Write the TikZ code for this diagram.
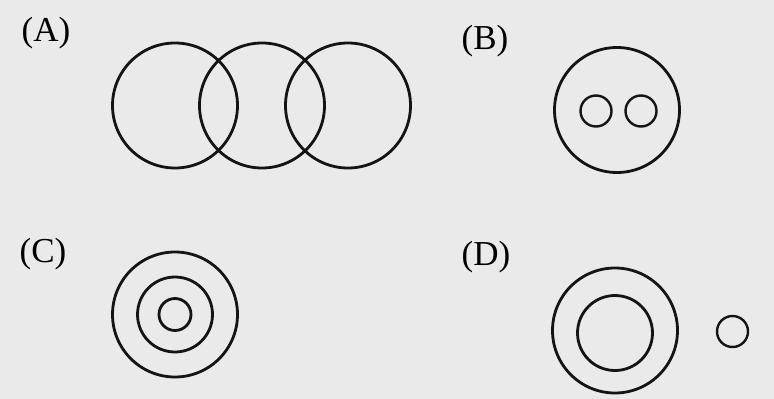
\documentclass[tikz,border=0pt]{standalone}
\usepackage{fontspec}
\setmainfont{Liberation Serif}
\usepackage{xcolor}
\usepackage{tikz}
\definecolor{paper}{RGB}{234,234,234}

\begin{document}
\begin{tikzpicture}[x=1pt,y=-1pt,line width=2.8pt,
  every node/.style={font=\fontsize{35}{38}\selectfont},
  ring/.style={draw=black!92}]
\fill[paper] (0,0) rectangle (774,399);
\useasboundingbox (0,0) rectangle (774,399);
% (A) three overlapping circles
\node (labA) at (46,33) {(A)};
\foreach \x in {175,262,348}{
  \draw[ring] (\x,105.5) circle (62.5);
}
% (B) circle with two small circles inside
\node (labB) at (485,41) {(B)};
\draw[ring] (617,110) circle (62.5);
\foreach \x in {596,641}{
  \draw[ring, line width=2.4pt] (\x,111) circle (15.5);
}
% (C) three concentric circles
\node (labC) at (43,254) {(C)};
\foreach \r in {62.5,37.5,16}{
  \draw[ring] (175,314.5) circle (\r);
}
% (D) two concentric circles and a separate small one
\node (labD) at (486,257) {(D)};
\draw[ring] (615,330.5) circle (62.5);
\draw[ring] (615,333) circle (37.5);
\draw[ring, line width=2.4pt] (732.5,331.5) circle (15.5);
\end{tikzpicture}
\end{document}
